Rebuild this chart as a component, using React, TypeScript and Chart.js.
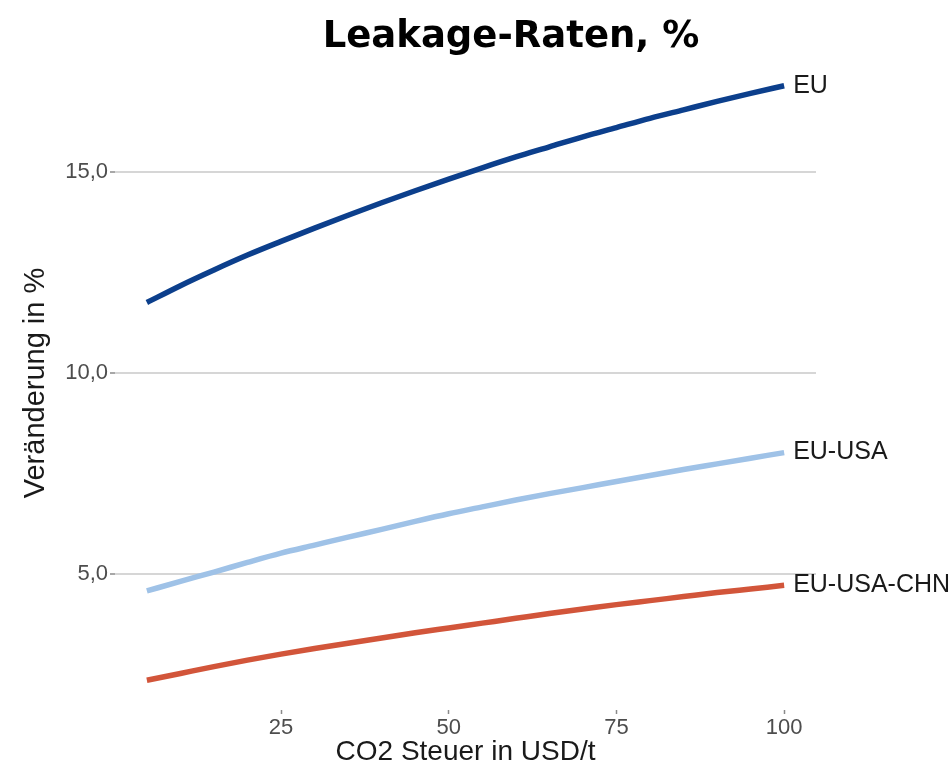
import React, { useEffect, useRef } from 'react';
import { Chart, registerables } from 'chart.js';

Chart.register(...registerables);

const chartTitle = 'Leakage-Raten, %';
const xAxisTitle = 'CO2 Steuer in USD/t';
const yAxisTitle = 'Veränderung in %';

const taxLevels = [5, 10, 15, 20, 25, 30, 35, 40, 45, 50, 55, 60, 65, 70, 75, 80, 85, 90, 95, 100];
const euValues = [11.75, 12.17, 12.56, 12.93, 13.27, 13.6, 13.92, 14.23, 14.53, 14.82, 15.1, 15.37, 15.62, 15.87, 16.1, 16.33, 16.54, 16.75, 16.95, 17.14];
const euUsaValues = [4.58, 4.82, 5.05, 5.29, 5.52, 5.72, 5.92, 6.11, 6.31, 6.5, 6.67, 6.84, 7.0, 7.15, 7.3, 7.45, 7.6, 7.74, 7.88, 8.02];
const euUsaChnValues = [2.36, 2.53, 2.7, 2.86, 3.01, 3.15, 3.28, 3.41, 3.54, 3.66, 3.78, 3.9, 4.02, 4.13, 4.24, 4.34, 4.44, 4.54, 4.63, 4.72];
const seriesNames = ['EU', 'EU-USA', 'EU-USA-CHN'];
const seriesColors = ['#0c3f8c', '#9fc2e7', '#d2553a'];

const xTickValues = [25, 50, 75, 100];
const yTickValues = [5, 10, 15];

const allY = [...euValues, ...euUsaValues, ...euUsaChnValues];
const yDataMin = Math.min(...allY);
const yDataMax = Math.max(...allY);
const yPad = (yDataMax - yDataMin) * 0.05;
const xDataMin = Math.min(...taxLevels);
const xDataMax = Math.max(...taxLevels);
const xPad = (xDataMax - xDataMin) * 0.05;

const fmtDe = (v: number) => v.toFixed(1).replace('.', ',');

export default function App() {
  const canvasRef = useRef<HTMLCanvasElement | null>(null);

  useEffect(() => {
    document.body.style.margin = '0';
    const canvas = canvasRef.current;
    if (!canvas) return;

    const overlayPlugin = {
      id: 'overlayText',
      afterDatasetsDraw(chart: any) {
        const ctx = chart.ctx;
        ctx.save();
        ctx.font = '25px "Liberation Sans", Arial, sans-serif';
        ctx.fillStyle = '#1a1a1a';
        ctx.textAlign = 'left';
        ctx.textBaseline = 'middle';
        chart.data.datasets.forEach((ds: any, i: number) => {
          const meta = chart.getDatasetMeta(i);
          const last = meta.data[meta.data.length - 1];
          if (last) ctx.fillText(ds.label, last.x + 9, last.y);
        });
        ctx.font = 'bold 37px "DejaVu Sans", sans-serif';
        ctx.fillStyle = '#000000';
        ctx.textAlign = 'center';
        ctx.textBaseline = 'alphabetic';
        ctx.fillText(chartTitle, 511, 47);
        ctx.restore();
      },
    };

    const mk = (vals: number[]) => taxLevels.map((x, i) => ({ x, y: vals[i] }));
    const seriesValues = [euValues, euUsaValues, euUsaChnValues];

    const chart = new Chart(canvas, {
      type: 'line',
      data: {
        datasets: seriesNames.map((name, i) => ({
          label: name,
          data: mk(seriesValues[i]),
          borderColor: seriesColors[i],
          backgroundColor: seriesColors[i],
          borderWidth: 5.5,
          pointRadius: 0,
          borderCapStyle: 'butt',
          cubicInterpolationMode: 'monotone',
          fill: false,
        })),
      },
      options: {
        animation: false,
        responsive: true,
        maintainAspectRatio: false,
        layout: { padding: { top: 56, right: 135, bottom: 0, left: 0 } },
        plugins: {
          legend: { display: false },
          title: { display: false },
          tooltip: { enabled: false },
        },
        scales: {
          x: {
            type: 'linear',
            min: xDataMin - xPad,
            max: xDataMax + xPad,
            afterBuildTicks: (scale: any) => {
              scale.ticks = xTickValues.map((v) => ({ value: v }));
            },
            afterFit: (scale: any) => {
              scale.height = 69;
            },
            border: { display: false },
            grid: {
              drawOnChartArea: false,
              drawTicks: true,
              tickLength: 4,
              tickColor: '#8a8a8a',
              tickWidth: 1.5,
            },
            ticks: {
              padding: 1,
              color: '#4d4d4d',
              font: { family: '"Liberation Sans", Arial, sans-serif', size: 22 },
              maxRotation: 0,
              callback: (v: any) => String(v),
            },
            title: {
              display: true,
              text: xAxisTitle,
              color: '#1a1a1a',
              font: { family: '"Liberation Sans", Arial, sans-serif', size: 28 },
              padding: { top: 0, bottom: 10 },
            },
          },
          y: {
            type: 'linear',
            min: yDataMin - yPad,
            max: yDataMax + yPad,
            afterBuildTicks: (scale: any) => {
              scale.ticks = yTickValues.map((v) => ({ value: v }));
            },
            afterFit: (scale: any) => {
              scale.width = 115;
            },
            border: { display: false },
            grid: {
              drawOnChartArea: true,
              drawTicks: true,
              tickLength: 5,
              color: '#d6d6d6',
              lineWidth: 2,
              tickColor: '#8a8a8a',
              tickWidth: 1.5,
            },
            ticks: {
              padding: 2,
              color: '#4d4d4d',
              font: { family: '"Liberation Sans", Arial, sans-serif', size: 22 },
              callback: (v: any) => fmtDe(Number(v)),
            },
            title: {
              display: true,
              text: yAxisTitle,
              color: '#1a1a1a',
              font: { family: '"Liberation Sans", Arial, sans-serif', size: 29 },
              padding: { top: 19, bottom: 0 },
            },
          },
        },
      } as any,
      plugins: [overlayPlugin],
    });

    return () => chart.destroy();
  }, []);

  return (
    <div style={{ width: '951px', height: '779px', position: 'relative', background: '#ffffff' }}>
      <canvas ref={canvasRef} />
    </div>
  );
}
